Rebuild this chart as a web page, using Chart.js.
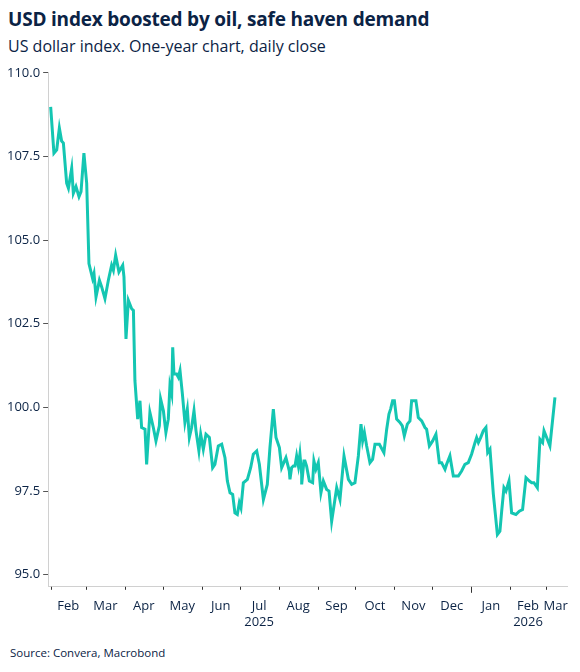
<!DOCTYPE html>
<html><head><meta charset="utf-8">
<script src="https://cdn.jsdelivr.net/npm/chart.js@4/dist/chart.umd.min.js"></script>
<style>
body{margin:0;background:#fff;font-family:"Open Sans",sans-serif;color:#0b2345;width:580px;height:672px;position:relative;overflow:hidden}
#t{position:absolute;left:8px;top:6px;font-size:19px;font-weight:700;letter-spacing:-0.2px}
#s{position:absolute;left:8px;top:35px;font-size:16px}
#src{position:absolute;left:10px;top:645px;font-size:11.5px}
#w{position:absolute;left:0;top:62px;width:580px;height:580px}
</style></head><body>
<div id="t">USD index boosted by oil, safe haven demand</div>
<div id="s">US dollar index. One-year chart, daily close</div>
<div id="w"><canvas id="c"></canvas></div>
<div id="src">Source: Convera, Macrobond</div>
<script>
// x positions: days since 1 Feb 2025
const pxPos=[54,57.3,60,62.7,65,66.7,70,71.7,75,76.7,79.3,82.3,84.3,87.3,90,92.3,96,97.3,99.3,102.7,105,108.3,111.7,115,116.7,119,122.3,126,127.3,129.3,131.7,135,136.7,138.3,141,143.3,145,148.3,150,153.3,156.7,159.3,162.7,164,166.7,169.3,171.7,173.3,175,176,177.3,180,181.7,183.3,185.7,188.3,190.7,192.7,195,197.3,199.3,202.3,204,206.7,209.3,212.7,216,218.3,221.7,225,228.3,230.7,233.3,236,238.3,240.7,242.7,244.3,246.7,250.7,254,256.7,260,262.7,266.7,270.7,273.3,276.7,279.3,282.7,285,289.3,292.7,296.7,300,303.3,305,308.3,
293.3,295,298.3,301.7,303.3,305,307.3,310,312.7,316,317.3,319.3,321.7,324.3,326.7,330,332.3,335,338.3,340,343.3,347.3,351.7,355,358.3,361.7,364.3,366,367.7,370,373.3,376,378.3,382.7,387.3,390,392.3,394,396,397.7,400,403.3,405.7,407.7,410.7,413.3,415,419.3,421.7,425,428.3,430,432.7,436,439.3,442.7,445,448.3,450,453.3,456.7,461.7,465,468.3,471.7,475,478.3,480,481.7,484,486.7,489.3,491,493.3,496.7,500.7,503.3,505,507.3,509.3,512.3,515,519.3,522.7,526,529.3,532.7,535,537.3,540.7,543.3,546,547.3,550,553.3,558.3];
const values=[108.98,107.6,107.7,108.35,107.96,107.9,106.7,106.55,107.15,106.4,106.6,106.3,106.45,107.6,106.7,104.3,103.85,104.0,103.3,103.8,103.6,103.25,103.8,104.25,104.1,104.55,104.05,104.25,103.9,102.05,103.2,102.95,102.9,100.8,99.65,100.2,99.4,99.35,98.3,99.85,99.4,99.0,99.45,100.25,99.9,99.25,99.65,100.65,100.4,101.8,101.0,101.0,100.9,101.1,100.4,99.55,99.95,99.1,99.4,99.9,99.3,98.7,99.2,98.75,99.2,99.1,98.2,98.3,98.85,98.9,98.5,97.8,97.45,97.4,96.85,96.8,97.15,97.0,97.75,97.85,98.2,98.6,98.7,98.3,97.25,97.7,98.8,99.95,99.1,98.8,98.2,98.5,98.1,98.25,98.55,98.6,98.0,98.4,
97.85,98.2,98.25,98.25,98.6,97.7,98.4,98.25,97.8,97.75,98.4,98.15,98.35,97.45,97.8,97.55,97.5,96.6,97.25,97.6,97.25,98.55,97.85,97.7,97.75,98.55,99.5,99.0,99.25,98.85,98.35,98.45,98.9,98.9,98.65,99.35,99.8,99.95,100.2,100.2,99.65,99.55,99.45,99.15,99.5,99.6,100.2,100.2,99.7,99.6,99.4,99.35,98.85,99.0,99.2,98.35,98.35,98.15,98.3,98.55,97.95,97.95,98.1,98.3,98.35,98.6,98.95,99.1,98.95,99.1,99.3,99.4,98.65,98.75,97.4,96.2,96.3,96.9,97.6,97.5,97.8,96.85,96.8,96.9,96.95,97.9,97.8,97.75,97.75,97.6,99.05,98.95,99.3,99.1,98.85,100.3];
const days=pxPos.map(p=>Math.round((p-54)*393/495*10)/10);
const monthStarts=[0,28,59,89,120,150,181,212,242,273,303,334,365,393];
const monthLabels=["Feb","Mar","Apr","May","Jun","Jul","Aug","Sep","Oct","Nov","Dec","Jan","Feb","Mar"];
const yearLabels={"5":"2025","12":"2026"};
const yTicks=[95,97.5,100,102.5,105,107.5,110];
const labelPos=monthStarts.map((d,i)=>i<monthStarts.length-1?(d+monthStarts[i+1])/2:d+8);
const pts=days.map((d,i)=>({x:d,y:values[i]})).sort((a,b)=>a.x-b.x);
const navy='#0b2345';
const tickPlugin={id:'mt',afterDraw(ch){const s=ch.scales.x,c=ch.ctx,y0=s.top;c.save();c.strokeStyle='#333';c.lineWidth=1;
monthStarts.forEach((d,i)=>{const x=Math.round(s.getPixelForValue(d))+0.5;c.beginPath();c.moveTo(x,y0);c.lineTo(x,y0+(i==11?6:3));c.stroke();});c.restore();}};
new Chart(document.getElementById('c'),{type:'line',
data:{datasets:[{data:pts,borderColor:'#14c6b2',borderWidth:3,pointRadius:0,tension:0}]},
options:{responsive:true,maintainAspectRatio:false,animation:false,
layout:{padding:{left:4,right:8,top:8,bottom:0}},
plugins:{legend:{display:false},tooltip:{enabled:false}},
scales:{
x:{type:'linear',min:-2,max:410,
 afterBuildTicks:s=>{s.ticks=labelPos.map(v=>({value:v}));},
 grid:{display:false,drawTicks:false},border:{display:true,color:'#d0d0d0'},
 ticks:{autoSkip:false,maxRotation:0,padding:12,color:navy,font:{family:'Open Sans',size:13},
  callback:(v,i)=>yearLabels[i]?[monthLabels[i],yearLabels[i]]:monthLabels[i]}},
y:{min:94.64,max:110,
 afterBuildTicks:s=>{s.ticks=yTicks.map(v=>({value:v}));},
 grid:{drawOnChartArea:false,tickLength:5,color:'#555'},border:{display:true,color:'#d0d0d0'},
 ticks:{color:navy,padding:3,font:{family:'Open Sans',size:13},callback:v=>v.toFixed(1)}}}},
plugins:[tickPlugin]});
</script></body></html>
